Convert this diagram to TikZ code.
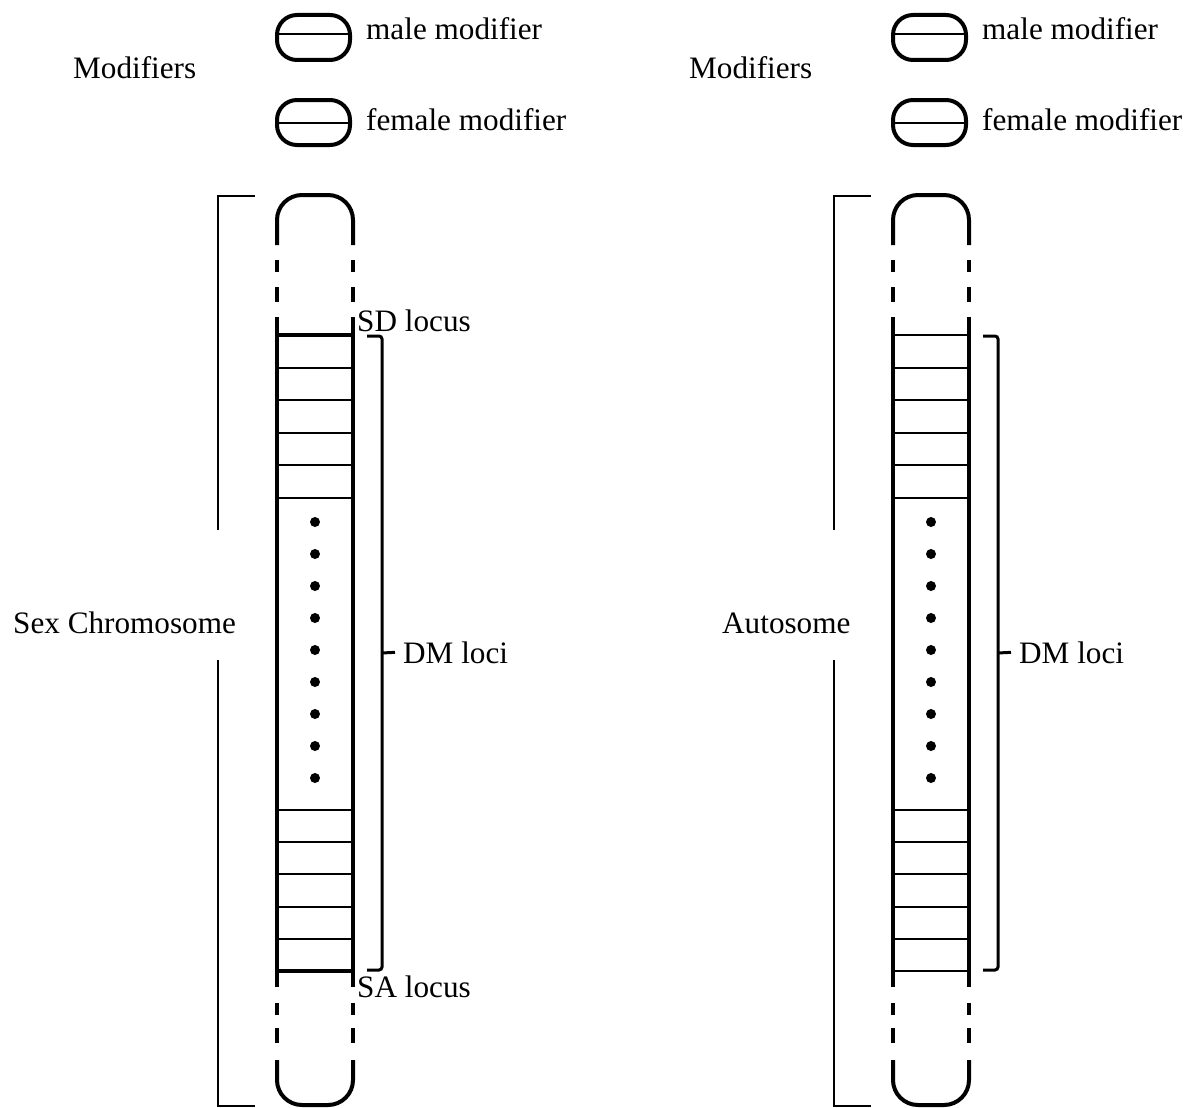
\documentclass[tikz,border=0pt]{standalone}
\usepackage{fontspec}
\setmainfont{Liberation Serif}
\usetikzlibrary{positioning}

\begin{document}
\begin{tikzpicture}[x=1pt,y=-1pt,line cap=butt,
    chrom/.style={line width=4pt},
    band/.style={line width=2pt},
    bracket/.style={line width=2pt},
    brace/.style={line width=3pt,rounded corners=3pt},
    lbl/.style={font=\fontsize{31.2}{36}\selectfont,inner sep=0pt,anchor=base west},
    modbox/.style={draw,line width=4pt,rounded corners=20pt,inner sep=0pt,
                   minimum width=73pt,minimum height=45pt}]

  \useasboundingbox (0,0) rectangle (1200,1108);

  % both chromosomes, the autosome shifted to the right
  \foreach \dx/\s/\title/\tx/\endw in {0/L/Sex Chromosome/13/4pt, 616/R/Autosome/106/2pt} {
    \begin{scope}[xshift=\dx pt]
      % legend
      \node[lbl]    (mods\s) at (73,79)      {Modifiers};
      \node[modbox] (male\s) at (313.5,37.5) {};
      \node[modbox] (fem\s)  at (313.5,122.5) {};
      \draw[band] ([yshift=3.5pt]male\s.west) -- ([yshift=3.5pt]male\s.east);
      \draw[band] (fem\s.west) -- (fem\s.east);
      \node[lbl] (maletxt\s) at (366,40)  {male modifier};
      \node[lbl] (femtxt\s)  at (366,130) {female modifier};

      % chromosome ends
      \draw[chrom,rounded corners=25pt] (277,245) -- (277,195) -- (353,195) -- (353,245);
      \draw[chrom,rounded corners=25pt] (277,1060) -- (277,1105) -- (353,1105) -- (353,1060);
      \foreach \xx in {277,353}
        \draw[chrom] (\xx,260) -- (\xx,272) (\xx,287) -- (\xx,302)
                     (\xx,317) -- (\xx,987)
                     (\xx,1003) -- (\xx,1015) (\xx,1028) -- (\xx,1043);

      % loci
      \foreach \i in {1,...,5} {
        \draw[band] (277,335+32.6*\i) -- (353,335+32.6*\i);
        \draw[band] (277,971-32.2*\i) -- (353,971-32.2*\i);
      }
      \draw[line width=\endw] (277,335) -- (353,335);
      \draw[line width=\endw] (277,971) -- (353,971);
      \foreach \i in {0,...,8}
        \fill (315,522+32*\i) circle (5pt);

      % side bracket with title
      \node[lbl] (title\s) at (\tx,633) {\title};
      \draw[bracket] (255,196) -| (218,530);
      \draw[bracket] (218,660) |- (255,1106);

      % brace over the DM loci
      \node[lbl] (dm\s) at (403,663) {DM loci};
      \draw[brace] (367,336) -- (382,336) -- (382,970) -- (367,970);
      \draw[brace] (382,653) -- ([xshift=-8pt]dm\s.west);
    \end{scope}
  }

  \node[lbl] (sd) at (357,331) {SD locus};
  \node[lbl] (sa) at (357,997) {SA locus};
\end{tikzpicture}
\end{document}
